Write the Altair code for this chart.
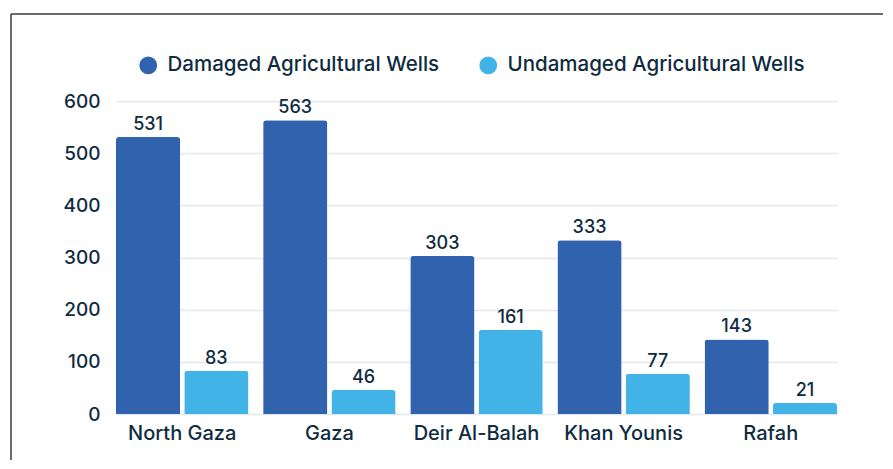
import altair as alt
import pandas as pd

regions = ["North Gaza", "Gaza", "Deir Al-Balah", "Khan Younis", "Rafah"]
series = ["Damaged Agricultural Wells", "Undamaged Agricultural Wells"]
damaged = [531, 563, 303, 333, 143]
undamaged = [83, 46, 161, 77, 21]
y_ticks = [0, 100, 200, 300, 400, 500, 600]
colors = ["#3162ae", "#41b3e7"]

rows = []
for r, d, u in zip(regions, damaged, undamaged):
    rows.append({"region": r, "series": series[0], "value": d})
    rows.append({"region": r, "series": series[1], "value": u})
df = pd.DataFrame(rows)

FONT = "Inter"
TXT = "#0f2b40"

x = alt.X("region:N", sort=regions,
          scale=alt.Scale(paddingInner=0.1, paddingOuter=0),
          axis=alt.Axis(title=None, labelAngle=0, domain=False, ticks=False,
                        labelFontSize=20, labelFontWeight=500, labelPadding=9,
                        labelColor=TXT, labelFont=FONT))
xo = alt.XOffset("series:N", sort=series, scale=alt.Scale(paddingInner=0.06))
y = alt.Y("value:Q", scale=alt.Scale(domain=[0, 600]),
          axis=alt.Axis(title=None, values=y_ticks, grid=True, domain=False,
                        ticks=False, labelPadding=16, labelFontSize=19,
                        labelFontWeight=500,
                        labelColor=TXT, labelFont=FONT, gridColor="#e3e8ee",
                        gridWidth=1.5))

bars = alt.Chart(df).mark_bar(cornerRadiusTopLeft=3, cornerRadiusTopRight=3).encode(
    x=x, xOffset=xo, y=y,
    color=alt.Color("series:N", sort=series,
                    scale=alt.Scale(domain=series, range=colors),
                    legend=alt.Legend(title=None, orient="none", legendX=22, legendY=-46,
                                      direction="horizontal", symbolType="circle",
                                      symbolSize=314, symbolStrokeWidth=0,
                                      labelFontSize=20.5, labelFontWeight=500,
                                      labelColor=TXT, labelFont=FONT, labelLimit=500,
                                      labelOffset=9, columnPadding=38)),
)

labels = alt.Chart(df).mark_text(baseline="bottom", dy=-3, fontSize=18, fontWeight=500,
                                 color=TXT, font=FONT).encode(
    x=x, xOffset=xo, y=y, text="value:Q")

frame_df = pd.DataFrame({"k": [0]})
left_line = alt.Chart(frame_df).mark_rule(color="#3a3a3a", strokeWidth=1.5).encode(
    x=alt.value(-105), y=alt.value(-87), y2=alt.value(360))
top_line = alt.Chart(frame_df).mark_rule(color="#3a3a3a", strokeWidth=1.5).encode(
    x=alt.value(-105), x2=alt.value(780), y=alt.value(-87))

chart = alt.layer(bars, labels, left_line, top_line).properties(
    width=721, height=313,
    autosize=alt.AutoSizeParams(type="none"),
    padding={"left": 108, "top": 93, "right": 46, "bottom": 46},
).configure_view(stroke=None)

chart.save("out.html", embed_options={"renderer": "svg", "actions": False})
